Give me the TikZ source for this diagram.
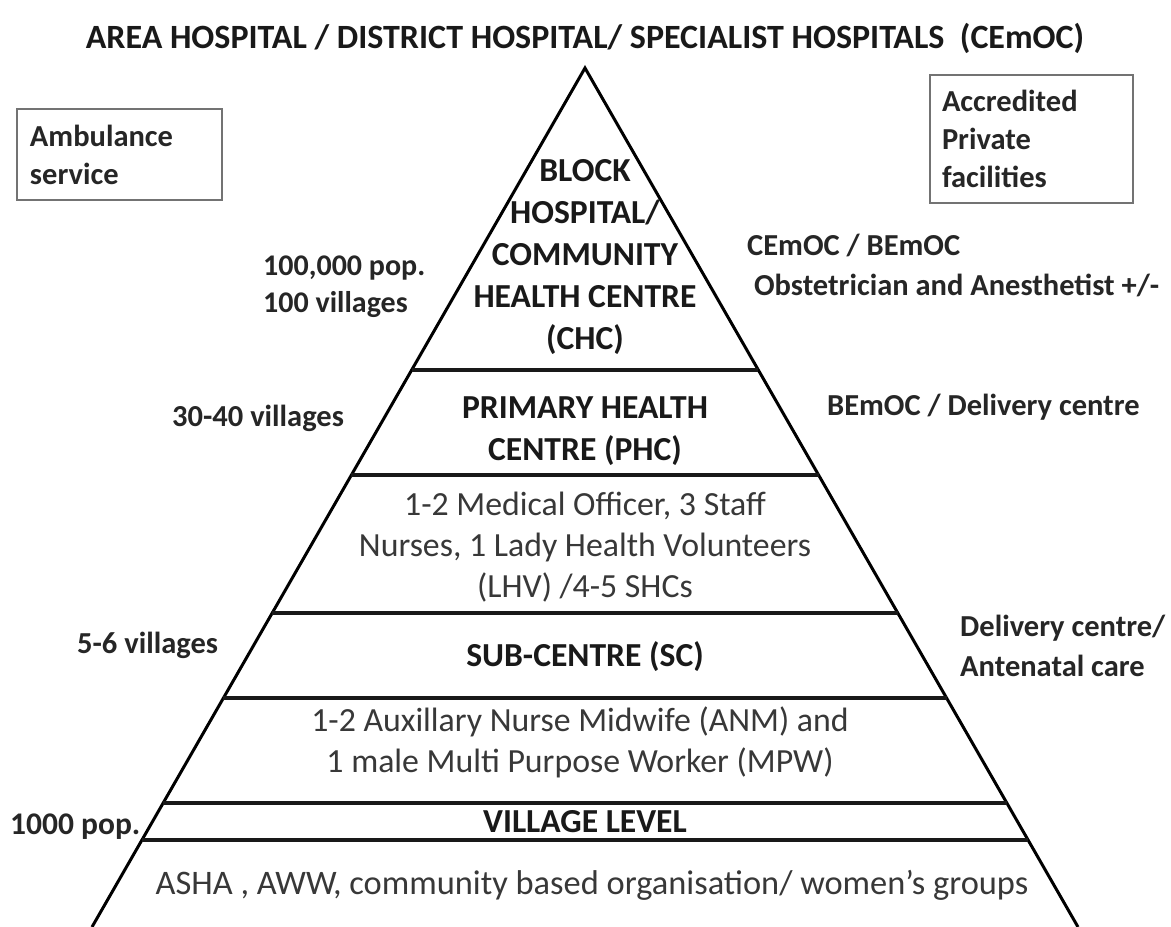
\documentclass[tikz,border=0pt]{standalone}
\usepackage{fontspec}
\setmainfont{Carlito}
\usetikzlibrary{calc}
\begin{document}
\begin{tikzpicture}[x=1pt,y=-1pt,
  edge/.style={line width=3pt, black},
  tier/.style={line width=3.5pt, black!90},
  infobox/.style={draw=black!55, line width=1.6pt, inner xsep=12pt, align=left,
    font=\bfseries\fontsize{30.5}{38}\selectfont, text=black!85},
  hd/.style={inner sep=0pt, align=center, font=\bfseries\fontsize{33.6}{42}\selectfont, text=black!90},
  rg/.style={inner sep=0pt, align=center, font=\fontsize{33.8}{41}\selectfont, text=black!78},
  side/.style={inner sep=0pt, anchor=west, align=left, font=\bfseries\fontsize{30.5}{40}\selectfont, text=black!85},
  sidepop/.style={side, font=\bfseries\fontsize{30}{37}\selectfont},
]
\useasboundingbox (0,0) rectangle (1171,927);
\fill[white] (0,0) rectangle (1171,927);

% pyramid
\coordinate (apex) at (585,68);
\coordinate (bl) at (92,927);
\coordinate (br) at (1078,927);
\draw[edge] (bl) -- (apex) -- (br);
\foreach \yy/\nm in {370/t1,475/t2,613/t3,698/t4,803/t5,840/t6}{
  \coordinate (\nm l) at ($(apex)!{(\yy-68)/859}!(bl)$);
  \coordinate (\nm r) at ($(apex)!{(\yy-68)/859}!(br)$);
  \draw[tier] (\nm l) -- (\nm r);
}

% title
\node[inner sep=0pt, font=\bfseries\fontsize{34}{40}\selectfont, text=black!90] (title) at (585,38)
  {AREA HOSPITAL / DISTRICT HOSPITAL/ SPECIALIST HOSPITALS\ \ (CEmOC)};

% boxes
\node[infobox, minimum width=205pt, minimum height=91pt, text width=179pt] (amb) at (119.5,154.5)
  {Ambulance\\service};
\node[infobox, minimum width=203pt, minimum height=128pt, text width=179pt] (priv) at (1031.5,139)
  {Accredited\\Private\\facilities};

% pyramid texts
\node[hd] (chc) at (585,257) {BLOCK\\HOSPITAL/\\COMMUNITY\\HEALTH CENTRE\\(CHC)};
\node[hd] (phc) at (585,431) {PRIMARY HEALTH\\CENTRE (PHC)};
\node[rg] (phcstaff) at (585,547) {1-2 Medical Officer, 3 Staff\\Nurses, 1 Lady Health Volunteers\\(LHV) /4-5 SHCs};
\node[hd] (sc) at (585,657) {SUB-CENTRE (SC)};
\node[rg] (scstaff) at (580,742) {1-2 Auxillary Nurse Midwife (ANM) and\\1 male Multi Purpose Worker (MPW)};
\node[hd] (vil) at (585,822) {VILLAGE LEVEL};
\node[rg, font=\fontsize{34.4}{41}\selectfont] (vilstaff) at (592,885) {ASHA , AWW, community based organisation/ women’s groups};

% side labels
\node[sidepop] (popchc) at (263,287) {100,000 pop.\\100 villages};
\node[side] (popphc) at (172,418) {30-40 villages};
\node[side] (popsc) at (77,645) {5-6 villages};
\node[side, font=\bfseries\fontsize{31.5}{37}\selectfont] (popvil) at (10,827) {1000 pop.};
\node[side] (servchc) at (747,265) {CEmOC / BEmOC\\\ Obstetrician and Anesthetist +/-};
\node[side] (servphc) at (827,407) {BEmOC / Delivery centre};
\node[side] (servsc) at (960,646) {Delivery centre/\\Antenatal care};
\end{tikzpicture}
\end{document}
